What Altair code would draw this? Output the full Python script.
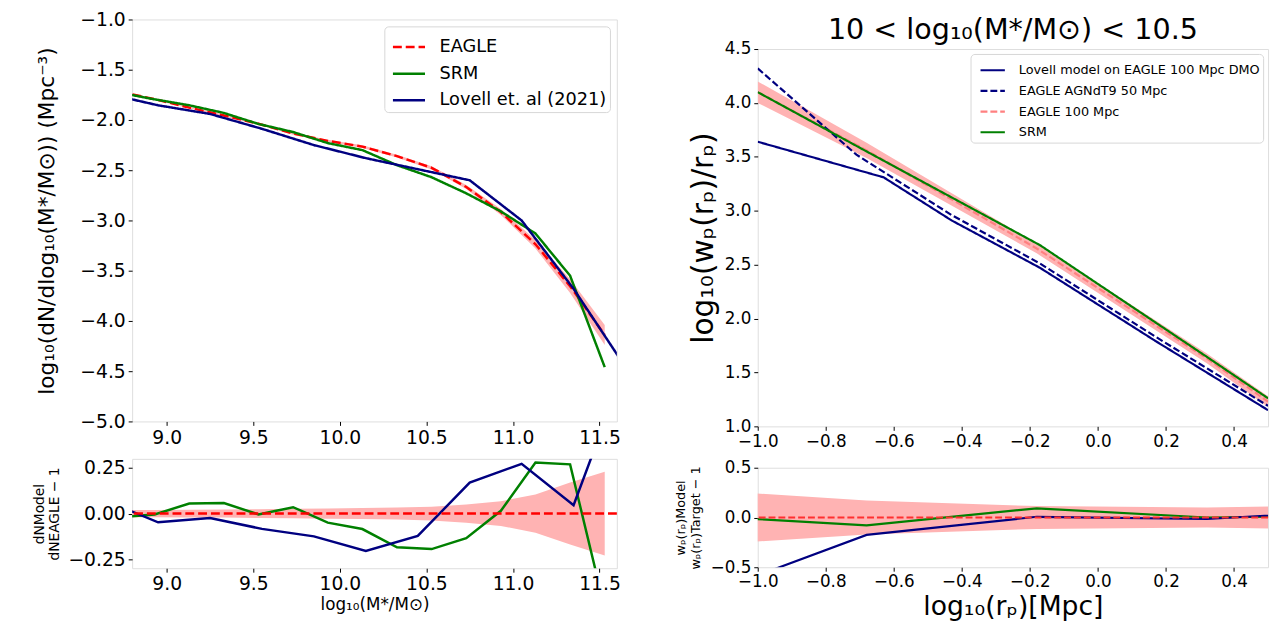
import altair as alt
import pandas as pd

FONT = "DejaVu Sans"

# ---------------- Stellar mass function (top-left) ----------------
mf_x_eagle = [8.73, 8.93, 9.13, 9.33, 9.53, 9.73, 9.93, 10.13, 10.33, 10.53, 10.73, 10.93, 11.13, 11.33, 11.53]
mf_eagle = [-1.720, -1.793, -1.877, -1.955, -2.038, -2.135, -2.208, -2.265, -2.360, -2.476, -2.667, -2.916, -3.237, -3.654, -4.140]
mf_eagle_err = [0.009, 0.009, 0.009, 0.0095, 0.010, 0.011, 0.012, 0.013, 0.014, 0.016, 0.021, 0.029, 0.043, 0.068, 0.100]
mf_srm = [-1.729, -1.795, -1.854, -1.930, -2.040, -2.120, -2.230, -2.300, -2.450, -2.570, -2.730, -2.910, -3.130, -3.550, -4.460]
mf_x_lovell = [8.65, 8.95, 9.25, 9.55, 9.85, 10.15, 10.45, 10.75, 11.05, 11.35, 11.65]
mf_lovell = [-1.736, -1.854, -1.940, -2.088, -2.250, -2.380, -2.490, -2.600, -3.000, -3.680, -4.460]

# ---------------- Mass function ratio (bottom-left) ----------------
ratio_srm = [-0.020, -0.005, 0.055, 0.058, -0.005, 0.035, -0.050, -0.085, -0.185, -0.195, -0.135, 0.015, 0.280, 0.270, -0.520]
ratio_lovell = [0.070, -0.048, -0.025, -0.084, -0.125, -0.205, -0.123, 0.170, 0.273, 0.046, 0.810]
ratio_band = [0.020, 0.020, 0.021, 0.022, 0.024, 0.026, 0.028, 0.030, 0.033, 0.038, 0.050, 0.068, 0.105, 0.170, 0.230]

# ---------------- Projected correlation function (top-right) ----------------
wp_x_lovell = [-1.0, -0.63, -0.43, -0.17, 0.17, 0.5]
wp_lovell = [3.64, 3.31, 2.91, 2.47, 1.79, 1.15]
wp_x_agn = [-1.0, -0.71, -0.43, -0.17, 0.17, 0.5]
wp_agn = [4.32, 3.52, 2.96, 2.51, 1.83, 1.19]
wp_x_eagle = [-1.0, -0.68, -0.18, 0.32, 0.5]
wp_eagle = [4.10, 3.56, 2.65, 1.63, 1.23]
wp_eagle_lo = [4.00, 3.49, 2.605, 1.585, 1.18]
wp_eagle_hi = [4.20, 3.63, 2.695, 1.675, 1.28]
wp_x_srm = [-1.0, -0.68, -0.17, 0.32, 0.5]
wp_srm = [4.10, 3.55, 2.68, 1.645, 1.26]

# ---------------- wp ratio (bottom-right) ----------------
wr_x = [-1.18, -0.68, -0.18, 0.32, 0.82]
wr_srm = [0.018, -0.079, 0.092, 0.000, 0.020]
wr_lovell = [-0.810, -0.175, 0.007, -0.015, 0.080]
wr_band = [0.280, 0.170, 0.115, 0.100, 0.128]

LEFT_NAMES = ["EAGLE", "SRM", "Lovell et. al (2021)"]
RIGHT_NAMES = ["Lovell model on EAGLE 100 Mpc DMO", "EAGLE AGNdT9 50 Mpc", "EAGLE 100 Mpc", "SRM"]
IND = dict(x="independent", y="independent", color="independent", strokeDash="independent")


def axis(values, fmt, size, title=None, title_size=16, **kw):
    return alt.Axis(values=values, format=fmt, labelFontSize=size, title=title,
                    titleFontSize=title_size, labelFont=FONT, titleFont=FONT,
                    titleFontWeight="normal", tickSize=4, tickColor="black",
                    labelColor="black", titleColor="black", grid=False, domain=False,
                    labelFlush=False, labelOverlap=False, labelPadding=3, **kw)


# ---------- top-left ----------
xs_l = alt.Scale(domain=[8.8, 11.6], nice=False, zero=False)
ys_tl = alt.Scale(domain=[-5.0, -1.0], nice=False, zero=False)
xticks_l = [9.0, 9.5, 10.0, 10.5, 11.0, 11.5]

tl_band_df = pd.DataFrame({
    "x": mf_x_eagle,
    "lo": [m - e for m, e in zip(mf_eagle, mf_eagle_err)],
    "hi": [m + e for m, e in zip(mf_eagle, mf_eagle_err)],
})
tl_lines_df = pd.concat([
    pd.DataFrame({"x": mf_x_eagle, "y": mf_eagle, "s": LEFT_NAMES[0], "o": 0}),
    pd.DataFrame({"x": mf_x_eagle, "y": mf_srm, "s": LEFT_NAMES[1], "o": 1}),
    pd.DataFrame({"x": mf_x_lovell, "y": mf_lovell, "s": LEFT_NAMES[2], "o": 2}),
])

left_legend = alt.Legend(
    title=None, orient="top-right", offset=7, symbolType="stroke",
    symbolSize=1060, symbolStrokeWidth=2.5, labelFontSize=18, labelFont=FONT,
    labelColor="black", fillColor="white", strokeColor="#d6d6d6", cornerRadius=4,
    padding=3, rowPadding=0, labelOffset=13, labelLimit=400, symbolOffset=4,
)

tl_band = alt.Chart(tl_band_df).mark_area(color="#ffb3b3", opacity=1, clip=True).encode(
    x=alt.X("x:Q", scale=xs_l), y=alt.Y("lo:Q", scale=ys_tl), y2="hi:Q")
tl_lines = alt.Chart(tl_lines_df).mark_line(strokeWidth=2.5, clip=True).encode(
    x=alt.X("x:Q", scale=xs_l, axis=axis(xticks_l, ".1f", 19)),
    y=alt.Y("y:Q", scale=ys_tl,
            axis=axis([-5.0, -4.5, -4.0, -3.5, -3.0, -2.5, -2.0, -1.5, -1.0], ".1f", 19,
                      title="log₁₀(dN/dlog₁₀(M*/M⊙)) (Mpc⁻³)", title_size=22, titlePadding=22)),
    color=alt.Color("s:N", scale=alt.Scale(domain=LEFT_NAMES, range=["#ff0000", "#008000", "#000080"]),
                    legend=left_legend),
    strokeDash=alt.StrokeDash("s:N", scale=alt.Scale(domain=LEFT_NAMES, range=[[9, 4], [1, 0], [1, 0]]),
                              legend=left_legend),
    order="o:Q",
)
top_left = alt.layer(tl_band, tl_lines).properties(width=492, height=408)

# ---------- bottom-left ----------
ys_bl = alt.Scale(domain=[-0.3, 0.3], nice=False, zero=False)
bl_band_df = pd.DataFrame({"x": mf_x_eagle, "lo": [-b for b in ratio_band], "hi": ratio_band})
bl_lines_df = pd.concat([
    pd.DataFrame({"x": mf_x_eagle, "y": ratio_srm, "s": "SRM"}),
    pd.DataFrame({"x": mf_x_lovell, "y": ratio_lovell, "s": "Lovell"}),
])
bl_band = alt.Chart(bl_band_df).mark_area(color="#ffb3b3", clip=True).encode(
    x=alt.X("x:Q", scale=xs_l), y=alt.Y("lo:Q", scale=ys_bl), y2="hi:Q")
bl_lines = alt.Chart(bl_lines_df).mark_line(strokeWidth=2.5, clip=True).encode(
    x=alt.X("x:Q", scale=xs_l, axis=axis(xticks_l, ".1f", 19, title="log₁₀(M*/M⊙)", title_size=17,
                                         titlePadding=3)),
    y=alt.Y("y:Q", scale=ys_bl, axis=axis([-0.25, 0.0, 0.25], ".2f", 19,
                                          title=["dNModel", "dNEAGLE − 1"], title_size=14, titlePadding=6)),
    color=alt.Color("s:N", scale=alt.Scale(domain=["SRM", "Lovell"], range=["#008000", "#000080"]), legend=None),
)
bl_zero = alt.Chart(pd.DataFrame({"y": [0.0]})).mark_rule(
    color="#ff0000", strokeWidth=2.5, strokeDash=[9, 4]).encode(y=alt.Y("y:Q", scale=ys_bl))
bottom_left = alt.layer(bl_band, bl_lines, bl_zero).properties(width=492, height=111)

# ---------- top-right ----------
xs_r = alt.Scale(domain=[-1.0, 0.5], nice=False, zero=False)
ys_tr = alt.Scale(domain=[1.0, 4.5], nice=False, zero=False)
xticks_r = [-1.0, -0.8, -0.6, -0.4, -0.2, 0.0, 0.2, 0.4]

tr_band_df = pd.DataFrame({"x": wp_x_eagle, "lo": wp_eagle_lo, "hi": wp_eagle_hi})
tr_lines_df = pd.concat([
    pd.DataFrame({"x": wp_x_eagle, "y": wp_eagle, "s": RIGHT_NAMES[2], "o": 0}),
    pd.DataFrame({"x": wp_x_lovell, "y": wp_lovell, "s": RIGHT_NAMES[0], "o": 1}),
    pd.DataFrame({"x": wp_x_agn, "y": wp_agn, "s": RIGHT_NAMES[1], "o": 2}),
    pd.DataFrame({"x": wp_x_srm, "y": wp_srm, "s": RIGHT_NAMES[3], "o": 3}),
])
right_legend = alt.Legend(
    title=None, orient="top-right", offset=5, symbolType="stroke",
    symbolSize=610, symbolStrokeWidth=2.2, labelFontSize=13, labelFont=FONT,
    labelColor="black", fillColor="white", strokeColor="#d6d6d6", cornerRadius=4,
    padding=3, rowPadding=0, labelOffset=13, labelLimit=400, symbolOffset=6,
)
tr_band = alt.Chart(tr_band_df).mark_area(color="#ffb3b3", clip=True).encode(
    x=alt.X("x:Q", scale=xs_r), y=alt.Y("lo:Q", scale=ys_tr), y2="hi:Q")
tr_lines = alt.Chart(tr_lines_df).mark_line(strokeWidth=2.2, clip=True).encode(
    x=alt.X("x:Q", scale=xs_r, axis=axis(xticks_r, ".1f", 17)),
    y=alt.Y("y:Q", scale=ys_tr, axis=axis([1.0, 1.5, 2.0, 2.5, 3.0, 3.5, 4.0, 4.5], ".1f", 17,
                                          title="log₁₀(wₚ(rₚ)/rₚ)", title_size=30, titlePadding=6)),
    color=alt.Color("s:N", scale=alt.Scale(domain=RIGHT_NAMES, range=["#000080", "#000080", "#ff8080", "#008000"]),
                    legend=right_legend),
    strokeDash=alt.StrokeDash("s:N", scale=alt.Scale(domain=RIGHT_NAMES, range=[[1, 0], [7, 3], [7, 3], [1, 0]]),
                              legend=right_legend),
    order="o:Q",
)
top_right = alt.layer(tr_band, tr_lines).properties(
    width=518, height=383,
    title=alt.Title("10 < log₁₀(M*/M⊙) < 10.5", fontSize=29, font=FONT, fontWeight="normal",
                    color="black", offset=-5, anchor="middle"))

# ---------- bottom-right ----------
ys_br = alt.Scale(domain=[-0.5, 0.5], nice=False, zero=False)
br_band_df = pd.DataFrame({"x": wr_x, "lo": [-b for b in wr_band], "hi": wr_band})
br_lines_df = pd.concat([
    pd.DataFrame({"x": wr_x, "y": wr_srm, "s": "SRM"}),
    pd.DataFrame({"x": wr_x, "y": wr_lovell, "s": "Lovell"}),
])
br_band = alt.Chart(br_band_df).mark_area(color="#ffb3b3", clip=True).encode(
    x=alt.X("x:Q", scale=xs_r), y=alt.Y("lo:Q", scale=ys_br), y2="hi:Q")
br_lines = alt.Chart(br_lines_df).mark_line(strokeWidth=2.2, clip=True).encode(
    x=alt.X("x:Q", scale=xs_r, axis=axis(xticks_r, ".1f", 17, title="log₁₀(rₚ)[Mpc]", title_size=27,
                                         titlePadding=4)),
    y=alt.Y("y:Q", scale=ys_br, axis=axis([-0.5, 0.0, 0.5], ".1f", 17,
                                          title=["wₚ(rₚ)Model", "wₚ(rₚ)Target − 1"], title_size=13,
                                          titlePadding=8)),
    color=alt.Color("s:N", scale=alt.Scale(domain=["SRM", "Lovell"], range=["#008000", "#000080"]), legend=None),
)
br_zero = alt.Chart(pd.DataFrame({"y": [0.0]})).mark_rule(
    color="#ff3030", strokeWidth=2.0, strokeDash=[7, 3]).encode(y=alt.Y("y:Q", scale=ys_br))
bottom_right = alt.layer(br_band, br_lines, br_zero).properties(width=518, height=101)

# invisible spacer that pushes the right column down below its title
spacer = alt.Chart(pd.DataFrame({"v": [0.0]})).mark_point(opacity=0, size=1).encode(
    x=alt.X("v:Q", axis=None), y=alt.Y("v:Q", axis=None)
).properties(width=1, height=1, view=alt.ViewBackground(strokeWidth=0, stroke="transparent"))

left_col = alt.vconcat(top_left, bottom_left, spacing=38, bounds="flush").resolve_scale(**IND)
right_inner = alt.vconcat(top_right, bottom_right, spacing=42, bounds="flush").resolve_scale(**IND)
right_col = alt.vconcat(spacer, right_inner, spacing=29, bounds="flush").resolve_scale(**IND)

base = alt.hconcat(left_col, right_col, spacing=53).resolve_scale(**IND)


def finish(c, top):
    return c.properties(padding={"left": 24, "top": top, "right": 2, "bottom": 2}).configure_view(
        stroke="#333333", strokeWidth=1
    ).configure(background="white")


try:
    chart = finish(base, -3)
    chart.to_dict()
except Exception:
    chart = finish(base, 0)

chart.save("out.html", embed_options={"renderer": "svg", "actions": False})
